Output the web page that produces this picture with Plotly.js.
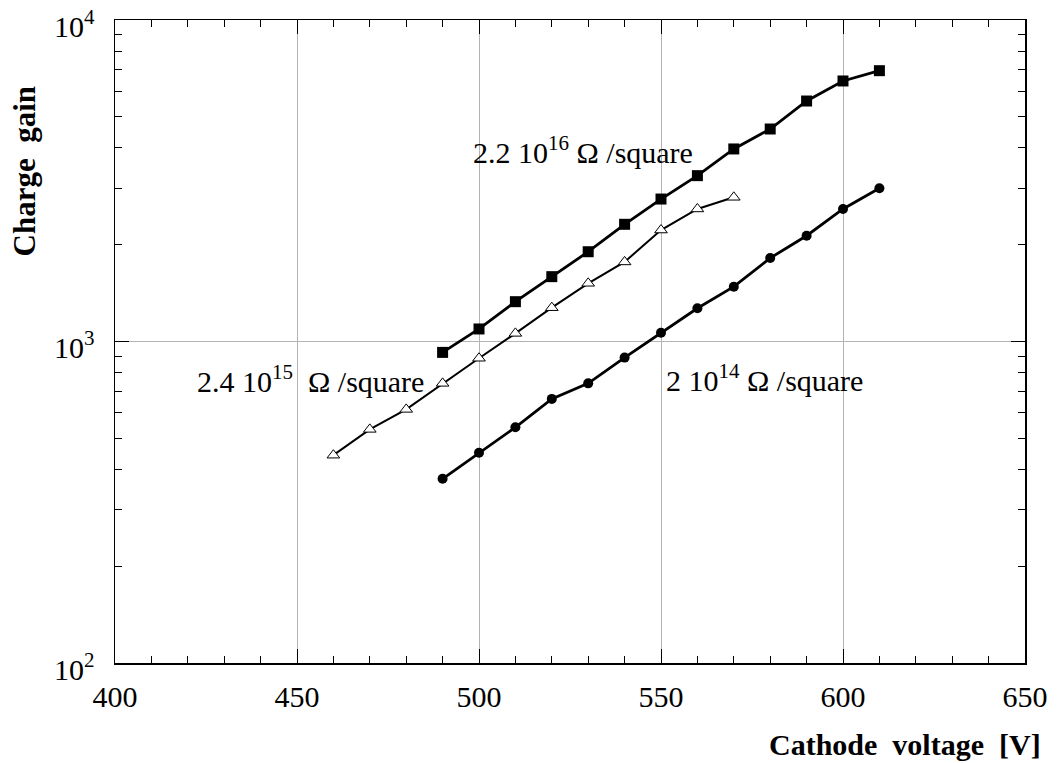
<!DOCTYPE html>
<html>
<head>
<meta charset="utf-8">
<script src="https://cdn.plot.ly/plotly-3.0.1.min.js"></script>
<style>html,body{margin:0;padding:0;background:#fff;}#chart{width:1058px;height:763px;}</style>
</head>
<body>
<div id="chart"></div>
<script>
// Data
const voltSquare = [490, 500, 510, 520, 530, 540, 550, 560, 570, 580, 590, 600, 610];
const gainSquare = [925, 1094, 1330, 1591, 1902, 2315, 2774, 3280, 3971, 4581, 5598, 6462, 6956];

const voltTriangle = [460, 470, 480, 490, 500, 510, 520, 530, 540, 550, 560, 570];
const gainTriangle = [443, 533, 615, 741, 887, 1060, 1274, 1517, 1768, 2222, 2584, 2809];

const voltCircle = [490, 500, 510, 520, 530, 540, 550, 560, 570, 580, 590, 600, 610];
const gainCircle = [374, 451, 541, 663, 741, 891, 1065, 1269, 1481, 1818, 2133, 2584, 2996];

const yTickVals = [100, 1000, 10000];
const yTickText = ["10<sup>2</sup>", "10<sup>3</sup>", "10<sup>4</sup>"];
const xTickVals = [400, 450, 500, 550, 600, 650];

const labelSquare = "2.2 10<sup>16</sup> \u03A9 /square";
const labelTriangle = "2.4 10<sup>15</sup> \u00A0\u03A9 /square";
const labelCircle = "2 10<sup>14</sup> \u03A9 /square";
const xTitle = "Cathode\u00A0 voltage\u00A0 [V]";
const yTitle = "Charge\u00A0 gain";

const FONT = "Liberation Serif, Times New Roman, serif";
const FS = 30;

const traces = [
  {x: voltSquare, y: gainSquare, mode: "lines+markers", type: "scatter",
   line: {color: "#000", width: 2.8},
   marker: {symbol: "square", size: 11, color: "#000"}},
  {x: voltTriangle, y: gainTriangle, mode: "lines+markers", type: "scatter",
   line: {color: "#000", width: 2},
   marker: {symbol: "triangle-up", size: 11, color: "#fff", line: {width: 1, color: "#000"}}},
  {x: voltCircle, y: gainCircle, mode: "lines+markers", type: "scatter",
   line: {color: "#000", width: 2.8},
   marker: {symbol: "circle", size: 10, color: "#000"}}
];

// white masks behind the labels (between gridlines and traces)
function mask(x0, x1, y0, y1) {
  return {type: "rect", xref: "paper", yref: "paper", x0: x0, x1: x1, y0: y0, y1: y1,
          fillcolor: "#fff", line: {width: 0}, layer: "between"};
}

const layout = {
  width: 1058, height: 763,
  margin: {l: 115, r: 33, t: 20, b: 100},
  paper_bgcolor: "#fff", plot_bgcolor: "#fff",
  showlegend: false,
  font: {family: FONT, size: FS, color: "#000"},
  xaxis: {
    range: [400, 650], tickmode: "array", tickvals: xTickVals,
    ticks: "inside", ticklen: 14, tickwidth: 1, tickcolor: "#000",
    showline: true, linecolor: "#000", linewidth: 1.5, mirror: "allticks",
    showgrid: true, gridcolor: "#b4b4b4", gridwidth: 1, zeroline: false,
    tickfont: {family: FONT, size: FS, color: "#000"},
    ticklabelstandoff: 6, ticklabeloverflow: "allow",
    minor: {dtick: 10, ticks: "inside", ticklen: 7, tickwidth: 1, tickcolor: "#000", showgrid: false}
  },
  yaxis: {
    type: "log", range: [2, 4], tickmode: "array", tickvals: yTickVals, ticktext: yTickText,
    ticks: "inside", ticklen: 14, tickwidth: 1, tickcolor: "#000",
    showline: true, linecolor: "#000", linewidth: 1.5, mirror: "allticks",
    showgrid: true, gridcolor: "#b4b4b4", gridwidth: 1, zeroline: false,
    tickfont: {family: FONT, size: FS, color: "#000"},
    ticklabelstandoff: 13, ticklabeloverflow: "allow",
    ticklabelshift: 6,
    minor: {dtick: "D1", ticks: "inside", ticklen: 7, tickwidth: 1, tickcolor: "#000", showgrid: false}
  },
  shapes: [
    mask(0.389, 0.637, 0.7636, 0.8398),
    mask(0.0857, 0.3297, 0.409, 0.479),
    mask(0.6015, 0.8242, 0.409, 0.4837)
  ],
  annotations: [
    {text: labelSquare, xref: "paper", yref: "paper", x: 0.389, y: 0.7978,
     xanchor: "left", yanchor: "middle", showarrow: false, borderpad: 3,
     font: {family: FONT, size: FS, color: "#000"}},
    {text: labelTriangle, xref: "paper", yref: "paper", x: 0.0857, y: 0.4417,
     xanchor: "left", yanchor: "middle", showarrow: false, borderpad: 3,
     font: {family: FONT, size: FS, color: "#000"}},
    {text: labelCircle, xref: "paper", yref: "paper", x: 0.601, y: 0.4432,
     xanchor: "left", yanchor: "middle", showarrow: false, borderpad: 3,
     font: {family: FONT, size: FS, color: "#000"}},
    {text: "<b>" + xTitle + "</b>", xref: "paper", yref: "paper", x: 1.0198, y: -0.1275,
     xanchor: "right", yanchor: "middle", showarrow: false,
     font: {family: FONT, size: FS, color: "#000"}},
    {text: "<b>" + yTitle + "</b>", xref: "paper", yref: "paper", x: -0.1, y: 0.7644,
     xanchor: "center", yanchor: "middle", showarrow: false, textangle: -90,
     font: {family: FONT, size: 31, color: "#000"}}
  ]
};

Plotly.newPlot("chart", traces, layout, {displayModeBar: false, staticPlot: true});
</script>
</body>
</html>
